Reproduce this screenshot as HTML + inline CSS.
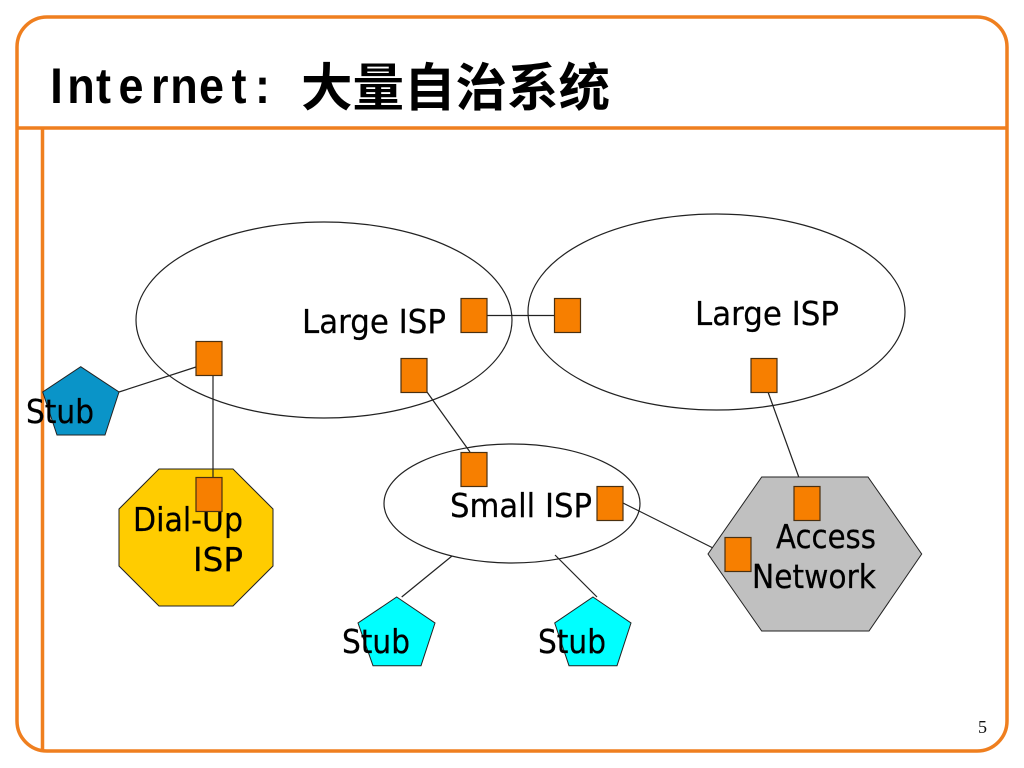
<!DOCTYPE html>
<html><head><meta charset="utf-8"><style>
html,body{margin:0;padding:0;background:#fff;width:1024px;height:768px;overflow:hidden}
svg{display:block}
.t{font-family:"DejaVu Sans","Liberation Sans",sans-serif;font-size:33px;fill:#000;stroke:#000;stroke-width:.25}
</style></head><body>
<svg width="1024" height="768" viewBox="0 0 1024 768" xmlns="http://www.w3.org/2000/svg">
<rect width="1024" height="768" fill="#fff"/>
<g fill="none" stroke="#ef7f1f" stroke-width="3.5">
<rect x="17" y="17" width="990" height="734" rx="30" ry="30"/>
<line x1="17" y1="128" x2="1007" y2="128"/>
<line x1="42.5" y1="128" x2="42.5" y2="751"/>
</g>
<g transform="translate(0,103) scale(.9,1)">
<text x="55.8 74.7 106.7 131.7 167.8 189.2 221.1 257.2 283.3" y="0" font-family="'Liberation Sans',sans-serif" font-weight="bold" font-size="50" fill="#000">Internet:</text>
</g>
<text x="301" y="106" font-family="'Noto Sans CJK SC','WenQuanYi Zen Hei',sans-serif" font-weight="bold" font-size="51.5" textLength="309" fill="#000">大量自治系统</text>
<g fill="none" stroke="#222" stroke-width="1.2">
<ellipse cx="324" cy="320" rx="188" ry="98"/>
<ellipse cx="716.5" cy="312" rx="188.5" ry="98"/>
<ellipse cx="512" cy="503.5" rx="128" ry="59.5"/>
<line x1="487" y1="315.5" x2="554" y2="315.5"/>
<line x1="119" y1="392" x2="196" y2="367"/>
<line x1="427" y1="392" x2="470" y2="452"/>
<line x1="768" y1="392" x2="802" y2="486"/>
<line x1="623" y1="503" x2="725" y2="554"/>
<line x1="401.700" y1="597" x2="452" y2="556"/>
<line x1="555" y1="555" x2="597" y2="597"/>
</g>
<polygon points="80.700,366.700 119,392 105,435 57,435 42.700,392" fill="#0a94c8" stroke="#222" stroke-width="1"/>
<polygon points="396.700,597 435,623 421,665.700 373,665.700 358,623" fill="#00ffff" stroke="#222" stroke-width="1"/>
<polygon points="593,597 631,623 617,665.700 569,665.700 554.700,623" fill="#00ffff" stroke="#222" stroke-width="1"/>
<polygon points="159,469 233,469 273,509 273,566 233,606 159,606 119,566 119,509" fill="#ffcc00" stroke="#222" stroke-width="1"/>
<polygon points="761.700,477 868,477 921.700,554 869,631 761.700,631 708,554" fill="#c0c0c0" stroke="#222" stroke-width="1"/>
<text class="t" x="133" y="531" textLength="110" lengthAdjust="spacingAndGlyphs">Dial-Up</text>
<text class="t" x="193" y="571" textLength="50" lengthAdjust="spacingAndGlyphs">ISP</text>
<line x1="213" y1="375" x2="213" y2="477" stroke="#222" stroke-width="1.2"/>
<g fill="#f77f00" stroke="#4a3010" stroke-width="1.2">
<rect x="196" y="341.500" width="26" height="34"/>
<rect x="461" y="298.500" width="26" height="34"/>
<rect x="554.500" y="298.500" width="26" height="34"/>
<rect x="401" y="358.500" width="26" height="34"/>
<rect x="751" y="358.500" width="26" height="34"/>
<rect x="461" y="452.500" width="26" height="34"/>
<rect x="597" y="486.500" width="26" height="34"/>
<rect x="196" y="477.500" width="26" height="34"/>
<rect x="794" y="486.500" width="26" height="34"/>
<rect x="725" y="537.500" width="26" height="34"/>
</g>
<text class="t" x="302" y="333" textLength="144" lengthAdjust="spacingAndGlyphs">Large ISP</text>
<text class="t" x="695" y="325" textLength="144" lengthAdjust="spacingAndGlyphs">Large ISP</text>
<text class="t" x="450" y="517" textLength="142" lengthAdjust="spacingAndGlyphs">Small ISP</text>
<text class="t" x="26" y="423" textLength="68" lengthAdjust="spacingAndGlyphs">Stub</text>
<text class="t" x="342" y="653" textLength="68" lengthAdjust="spacingAndGlyphs">Stub</text>
<text class="t" x="538" y="653" textLength="68" lengthAdjust="spacingAndGlyphs">Stub</text>
<text class="t" x="776" y="548" textLength="100" lengthAdjust="spacingAndGlyphs">Access</text>
<text class="t" x="752" y="588" textLength="124" lengthAdjust="spacingAndGlyphs">Network</text>
<text x="978" y="733" font-family="'Liberation Serif',serif" font-size="18" fill="#111">5</text>
</svg>
</body></html>
